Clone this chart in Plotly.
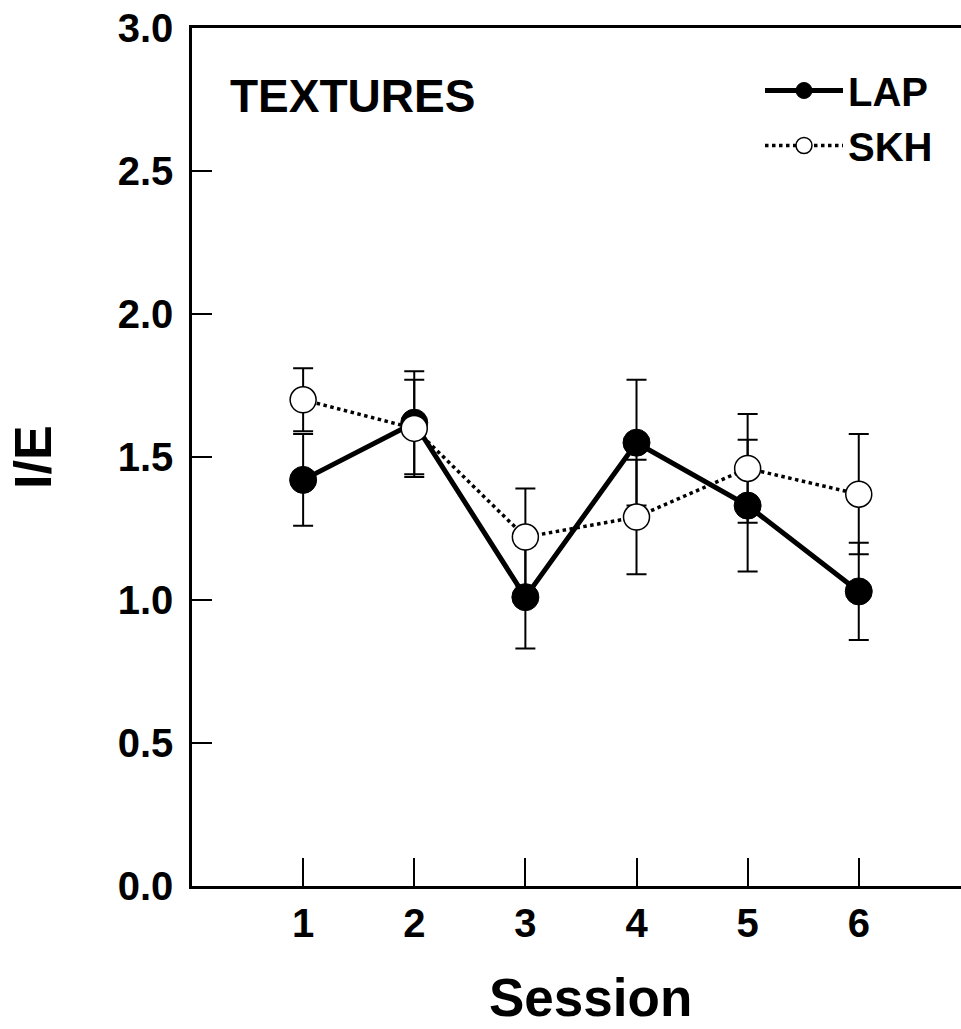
import plotly.graph_objects as go

sessions = [1, 2, 3, 4, 5, 6]
lap_mean = [1.42, 1.62, 1.01, 1.55, 1.33, 1.03]
lap_err = [0.16, 0.18, 0.18, 0.22, 0.23, 0.17]
skh_mean = [1.70, 1.60, 1.22, 1.29, 1.46, 1.37]
skh_err = [0.11, 0.17, 0.17, 0.20, 0.19, 0.21]
y_ticks = [0.0, 0.5, 1.0, 1.5, 2.0, 2.5, 3.0]

FONT = "Liberation Sans, Arial, sans-serif"

fig = go.Figure()
fig.add_trace(go.Scatter(
    x=sessions, y=lap_mean, name="LAP", mode="lines+markers",
    line=dict(color="black", width=5),
    marker=dict(symbol="circle", size=27, color="black", line=dict(color="black", width=1)),
    error_y=dict(type="data", array=lap_err, visible=True, color="black", thickness=2, width=10),
))
fig.add_trace(go.Scatter(
    x=sessions, y=skh_mean, name="SKH", mode="lines+markers",
    line=dict(color="black", width=3.5, dash="dot"),
    marker=dict(symbol="circle", size=26, color="white", line=dict(color="black", width=1.5)),
    error_y=dict(type="data", array=skh_err, visible=True, color="black", thickness=2, width=10),
))

W, H = 961, 1029
L, R, T, B = 192, 0, 28, 143
pw, ph = W - L - R, H - T - B

def px(xp):
    return (xp - L) / pw

def py(yp):
    return (H - B - yp) / ph

fig.update_layout(
    width=W, height=H,
    margin=dict(l=L, r=R, t=T, b=B),
    paper_bgcolor="white", plot_bgcolor="white",
    font=dict(family=FONT, color="black"),
    showlegend=True,
    legend=dict(
        x=px(760), y=py(58), xanchor="left", yanchor="top",
        bgcolor="rgba(0,0,0,0)", font=dict(size=40, family=FONT, weight="bold"),
        itemwidth=78, tracegroupgap=0,
    ),
    xaxis=dict(
        range=[0, 6.92], tickvals=sessions, ticktext=[str(s) for s in sessions],
        showline=True, linecolor="black", linewidth=2.5, mirror=True,
        ticks="inside", ticklen=28, tickwidth=2, tickcolor="black",
        showgrid=False, zeroline=False,
        tickfont=dict(size=40, family=FONT, weight="bold"),
        ticklabelstandoff=0,
    ),
    yaxis=dict(
        range=[0, 3], tickvals=y_ticks, ticktext=[f"{v:.1f}" for v in y_ticks],
        showline=True, linecolor="black", linewidth=2.5, mirror=False,
        ticks="inside", ticklen=20, tickwidth=2, tickcolor="black",
        showgrid=False, zeroline=False,
        tickfont=dict(size=40, family=FONT, weight="bold"),
        ticklabelstandoff=8,
    ),
    annotations=[
        dict(text="TEXTURES", x=px(352), y=py(96), xref="paper", yref="paper",
             xanchor="center", yanchor="middle", showarrow=False,
             font=dict(size=46, family=FONT, weight="bold")),
        dict(text="I/E", x=px(33), y=py(457), xref="paper", yref="paper",
             xanchor="center", yanchor="middle", showarrow=False, textangle=-90,
             font=dict(size=52, family=FONT, weight="bold")),
        dict(text="Session", x=px(590), y=py(997), xref="paper", yref="paper",
             xanchor="center", yanchor="middle", showarrow=False,
             font=dict(size=53, family=FONT, weight="bold")),
    ],
)

fig.write_html("out.html")
